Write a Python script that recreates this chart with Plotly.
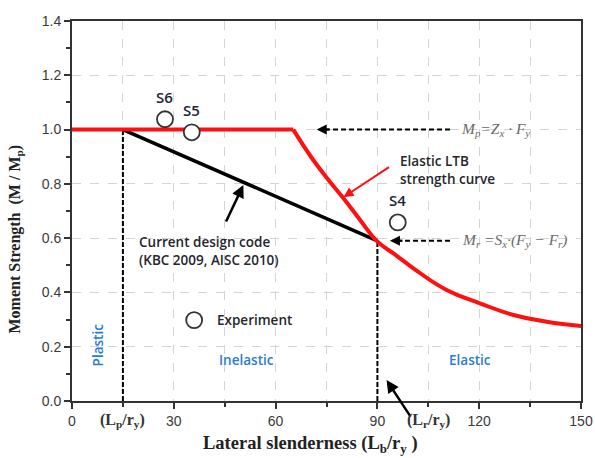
import plotly.graph_objects as go

# Elastic LTB strength curve (normalised moment vs. lateral slenderness)
plateau_x = [0, 65.2]
plateau_m = [1.0, 1.0]
ltb_x = [65.2, 71.1, 76.0, 80.0, 84.9, 89.8, 95.7, 100.6, 110.4, 120.2, 130.1, 139.9, 150]
ltb_m = [1.0, 0.888, 0.808, 0.747, 0.667, 0.59, 0.535, 0.489, 0.409, 0.360, 0.317, 0.292, 0.276]

# Current design code (linear inelastic branch between Lp/ry and Lr/ry)
lp_ry = 15
lr_ry = 90
mr_mp = 0.59
code_x = [lp_ry, lr_ry]
code_m = [1.0, mr_mp]

# Test specimens
spec_names = ["S6", "S5", "S4"]
spec_x = [27.4, 35.3, 96.0]
spec_m = [1.038, 0.99, 0.658]

x_ticks = [0, 30, 60, 90, 120, 150]
y_ticks = [0.0, 0.2, 0.4, 0.6, 0.8, 1.0, 1.2, 1.4]

SANS = "Open Sans"
SERIF = "Liberation Serif"
TXT = "#26262c"
BLUE = "#2b7bd6"
RED = "#ff1010"

fig = go.Figure()

dash_line = dict(color="black", width=2, dash="5px,2px")
# vertical dashed limits
fig.add_trace(go.Scatter(x=[lp_ry, lp_ry], y=[0, 1.0], mode="lines", line=dash_line, hoverinfo="skip"))
fig.add_trace(go.Scatter(x=[lr_ry, lr_ry], y=[0, mr_mp], mode="lines", line=dash_line, hoverinfo="skip"))
# dashed pointer lines from the formulas
fig.add_trace(go.Scatter(x=[111.4, 74.5], y=[1.0, 1.0], mode="lines",
                         line=dict(color="black", width=2, dash="5px,3px"), hoverinfo="skip"))
fig.add_trace(go.Scatter(x=[111.4, 96.0], y=[mr_mp, mr_mp], mode="lines",
                         line=dict(color="black", width=2, dash="5px,3px"), hoverinfo="skip"))

fig.add_trace(go.Scatter(x=code_x, y=code_m, mode="lines",
                         line=dict(color="black", width=3.5), hoverinfo="skip"))
fig.add_trace(go.Scatter(x=plateau_x, y=plateau_m, mode="lines",
                         line=dict(color=RED, width=4), hoverinfo="skip"))
fig.add_trace(go.Scatter(x=ltb_x, y=ltb_m, mode="lines",
                         line=dict(color=RED, width=4, shape="spline", smoothing=1.3),
                         hoverinfo="skip"))

# experiment markers (plus legend symbol)
fig.add_trace(go.Scatter(x=spec_x + [36.0], y=spec_m + [0.298], mode="markers",
                         marker=dict(symbol="circle", size=16, color="white",
                                     line=dict(color="#333333", width=1.8)),
                         hoverinfo="skip"))

ann = []
for name, xv, yv in zip(spec_names, spec_x, spec_m):
    ann.append(dict(x=xv, y=yv + 0.082, text=name, showarrow=False,
                    font=dict(family=SANS, size=15, color="#1c2636", weight=600)))

lab = dict(family=SANS, size=13.5, color=TXT, weight=600)
blue = dict(family=SANS, size=13.5, color=BLUE, weight=600)
formula = dict(family=SERIF, size=15.5, color="#6a6a6a")
ann += [
    dict(x=96.1, y=0.851, xanchor="left", align="left", showarrow=False,
         text="Elastic LTB<br>strength curve", font=lab),
    dict(x=19.2, y=0.553, xanchor="left", align="left", showarrow=False,
         text="Current design code<br>(KBC 2009, AISC 2010)", font=lab),
    dict(x=42.1, y=0.298, xanchor="left", showarrow=False, text="Experiment", font=lab),
    dict(x=7.75, y=0.206, showarrow=False, textangle=-90, text="Plastic", font=blue),
    dict(x=51.5, y=0.151, showarrow=False, text="Inelastic", font=blue),
    dict(x=117.3, y=0.151, showarrow=False, text="Elastic", font=blue),
    dict(x=114.1, y=1.0, xanchor="left", showarrow=False,
         text="<i>M<sub>p</sub>=Z<sub>x</sub> · F<sub>y</sub></i>", font=formula),
    dict(x=114.4, y=mr_mp, xanchor="left", showarrow=False,
         text="<i>M<sub>r</sub> =S<sub>x</sub>·(F<sub>y</sub> − F<sub>r</sub>)</i>", font=formula),
    # arrowheads
    dict(x=72.1, y=1.0, ax=14, ay=0, showarrow=True, arrowhead=2, arrowsize=1,
         arrowwidth=2, arrowcolor="black", text=""),
    dict(x=93.7, y=mr_mp, ax=14, ay=0, showarrow=True, arrowhead=2, arrowsize=1,
         arrowwidth=2, arrowcolor="black", text=""),
    dict(x=80.0, y=0.751, ax=47, ay=-31, showarrow=True, arrowhead=2, arrowsize=1,
         arrowwidth=2, arrowcolor=RED, text=""),
    dict(x=50.5, y=0.796, ax=-18, ay=38, showarrow=True, arrowhead=2, arrowsize=1,
         arrowwidth=2.5, arrowcolor="black", text=""),
    dict(x=92.7, y=0.077, ax=25, ay=38, showarrow=True, arrowhead=2, arrowsize=1,
         arrowwidth=2.5, arrowcolor="black", text=""),
    # slenderness limit labels on the x-axis
    dict(x=lp_ry, y=0, yref="y", yanchor="middle", yshift=-19, showarrow=False,
         text="<b>(L<sub>p</sub>/r<sub>y</sub>)</b>", font=dict(family=SERIF, size=16, color="#333")),
    dict(x=105, y=0, yref="y", yanchor="middle", yshift=-19, showarrow=False,
         text="<b>(L<sub>r</sub>/r<sub>y</sub>)</b>", font=dict(family=SERIF, size=16, color="#333")),
    # axis titles
    dict(x=0.5, xref="paper", xshift=-16, y=0, yref="paper", yanchor="middle", yshift=-43,
         showarrow=False,
         text="<b>Lateral slenderness (L<sub>b</sub>/r<sub>y</sub> )</b>",
         font=dict(family=SERIF, size=18.5, color="#222")),
    dict(x=0, xref="paper", xanchor="center", xshift=-57, y=0.425, yref="paper", yanchor="middle",
         showarrow=False, textangle=-90,
         text="<b>Moment Strength  (M / M<sub>p</sub>)</b>",
         font=dict(family=SERIF, size=16, color="#222")),
]

grid = dict(gridcolor="#d4d4d4", griddash="dash", gridwidth=1)
axis_common = dict(ticks="outside", ticklen=6, tickwidth=2, tickcolor="#333",
                   showline=True, linecolor="#333", linewidth=2, mirror=True,
                   tickfont=dict(family="Liberation Sans", size=14, color="#3a3a3a"),
                   showgrid=True, zeroline=False, automargin=False, **grid)

fig.update_layout(
    width=595, height=458,
    margin=dict(l=72, r=14, t=21, b=57),
    paper_bgcolor="white", plot_bgcolor="white",
    showlegend=False,
    annotations=ann,
    xaxis=dict(range=[0, 150], tickvals=x_ticks, **axis_common,
               minor=dict(dtick=15, tick0=0, ticks="outside", ticklen=4, tickwidth=2,
                          tickcolor="#333", showgrid=True, **grid)),
    yaxis=dict(range=[0, 1.4], tickvals=y_ticks, tickformat=".1f", **axis_common,
               minor=dict(dtick=0.1, tick0=0, ticks="outside", ticklen=4, tickwidth=2,
                          tickcolor="#333", showgrid=False)),
)

fig.write_html("out.html")
